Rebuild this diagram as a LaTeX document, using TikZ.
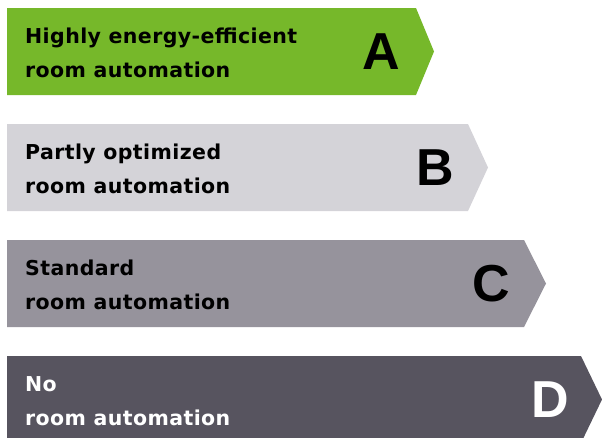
\documentclass[tikz,border=0pt]{standalone}
\usepackage{fontspec}
\setmainfont{Liberation Sans}
\newfontfamily\lblfont[LetterSpace=2]{DejaVu Sans}
\definecolor{cA}{HTML}{76B82A}
\definecolor{cB}{HTML}{D4D3D8}
\definecolor{cC}{HTML}{96939C}
\definecolor{cD}{HTML}{57545F}
\begin{document}
\begin{tikzpicture}[x=1pt,y=-1pt,
  lbl/.style={anchor=base west,inner sep=0pt,font=\lblfont\bfseries\fontsize{20.5}{24}\selectfont},
  grade/.style={anchor=center,inner sep=0pt,font=\bfseries\fontsize{52}{60}\selectfont}]
\useasboundingbox (0,0) rectangle (602,437);
% bars
\fill[cA] (7,8) -- (416,8) -- (434,51.5) -- (416,95) -- (7,95) -- cycle;
\fill[cB] (7,124) -- (468,124) -- (488,167.5) -- (468,211) -- (7,211) -- cycle;
\fill[cC] (7,240) -- (524,240) -- (546,283.5) -- (524,327) -- (7,327) -- cycle;
\fill[cD] (7,356) -- (581,356) -- (602,399.5) -- (581,443) -- (7,443) -- cycle;
% labels
\node[lbl] (a1) at (25,43.3) {Highly energy-efficient};
\node[lbl] (a2) at (25,77) {room automation};
\node[grade] (a) at (381,52) {A};
\node[lbl] (b1) at (25,159.5) {Partly optimized};
\node[lbl] (b2) at (25,193) {room automation};
\node[grade] (b) at (435,167.5) {B};
\node[lbl] (c1) at (25,275.5) {Standard};
\node[lbl] (c2) at (25,309) {room automation};
\node[grade] (c) at (491,283.5) {C};
\node[lbl,text=white] (d1) at (25,391.5) {No};
\node[lbl,text=white] (d2) at (25,425) {room automation};
\node[grade,text=white] (d) at (550,400) {D};
\end{tikzpicture}
\end{document}
